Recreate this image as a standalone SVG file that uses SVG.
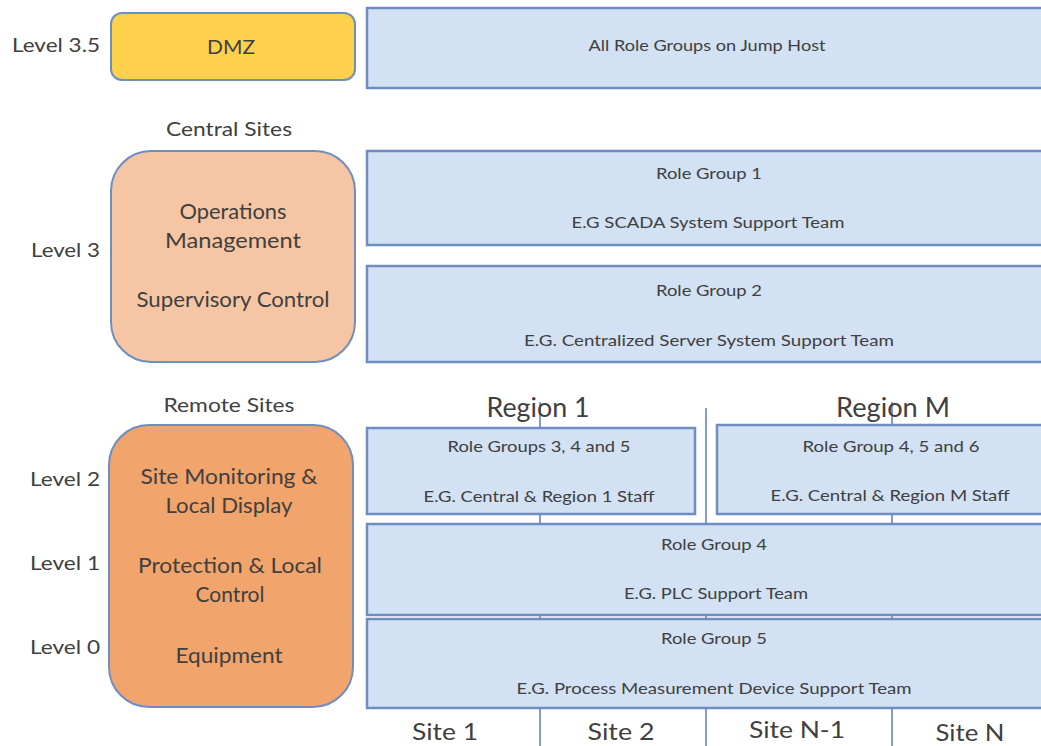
<svg xmlns="http://www.w3.org/2000/svg" width="1041" height="746" viewBox="0 0 1041 746">
<style>
text{font-family:Lato,"Open Sans","Liberation Sans",sans-serif;fill:#404040;text-anchor:middle}
.lvl{font-size:20px;text-anchor:end}
.hd{font-size:20px}
.big{font-size:21px}
.sm{font-size:16px}
.reg{font-size:26px}
.site{font-size:24px}
.box{fill:#D2E1F3;stroke:#6E8DC0;stroke-width:2.5}
.rnd{stroke:#6E8DC0;stroke-width:2}
.ln{stroke:#7F9DD2;stroke-width:2;fill:none}
</style>
<rect width="1041" height="746" fill="#ffffff"/>

<g id="connectors">
<line class="ln" x1="540" y1="402" x2="540" y2="746"/>
<line class="ln" x1="706" y1="408" x2="706" y2="746"/>
<line class="ln" x1="892" y1="402" x2="892" y2="746"/>
</g>

<g id="level-labels">
<text class="lvl" x="100" y="52" textLength="88" lengthAdjust="spacingAndGlyphs">Level 3.5</text>
<text class="lvl" x="100" y="257" textLength="69" lengthAdjust="spacingAndGlyphs">Level 3</text>
<text class="lvl" x="100" y="486" textLength="70" lengthAdjust="spacingAndGlyphs">Level 2</text>
<text class="lvl" x="100" y="570" textLength="70" lengthAdjust="spacingAndGlyphs">Level 1</text>
<text class="lvl" x="100" y="654" textLength="70" lengthAdjust="spacingAndGlyphs">Level 0</text>
<text class="hd" x="229" y="136" textLength="126" lengthAdjust="spacingAndGlyphs">Central Sites</text>
<text class="hd" x="229" y="412" textLength="131" lengthAdjust="spacingAndGlyphs">Remote Sites</text>
</g>

<g id="dmz">
<rect class="rnd" x="111" y="13" width="244" height="67" rx="11" fill="#FDD14C"/>
<text class="hd" x="231" y="54" textLength="48" lengthAdjust="spacingAndGlyphs">DMZ</text>
</g>

<g id="jump-host">
<rect class="box" x="367" y="8" width="690" height="80"/>
<text class="sm" x="707" y="51" textLength="237" lengthAdjust="spacingAndGlyphs">All Role Groups on Jump Host</text>
</g>

<g id="central-sites">
<rect class="rnd" x="111" y="151" width="244" height="211" rx="40" fill="#F6C6A4"/>
<text class="big" x="233" y="219" textLength="107" lengthAdjust="spacingAndGlyphs">Operations</text>
<text class="big" x="233" y="248" textLength="136" lengthAdjust="spacingAndGlyphs">Management</text>
<text class="big" x="233" y="307" textLength="193" lengthAdjust="spacingAndGlyphs">Supervisory Control</text>
</g>

<g id="role-group-1">
<rect class="box" x="367" y="151" width="690" height="94"/>
<text class="sm" x="709" y="179" textLength="106" lengthAdjust="spacingAndGlyphs">Role Group 1</text>
<text class="sm" x="708" y="228" textLength="273" lengthAdjust="spacingAndGlyphs">E.G SCADA System Support Team</text>
</g>

<g id="role-group-2">
<rect class="box" x="367" y="266" width="690" height="96"/>
<text class="sm" x="709" y="296" textLength="106" lengthAdjust="spacingAndGlyphs">Role Group 2</text>
<text class="sm" x="709" y="346" textLength="370" lengthAdjust="spacingAndGlyphs">E.G. Centralized Server System Support Team</text>
</g>

<g id="remote-sites">
<rect class="rnd" x="109" y="425" width="244" height="282" rx="40" fill="#F1A46C"/>
<text class="big" x="229" y="484" textLength="177" lengthAdjust="spacingAndGlyphs">Site Monitoring &amp;</text>
<text class="big" x="229" y="513" textLength="127" lengthAdjust="spacingAndGlyphs">Local Display</text>
<text class="big" x="230" y="573" textLength="184" lengthAdjust="spacingAndGlyphs">Protection  &amp; Local</text>
<text class="big" x="230" y="602" textLength="69" lengthAdjust="spacingAndGlyphs">Control</text>
<text class="big" x="229" y="663" textLength="107" lengthAdjust="spacingAndGlyphs">Equipment</text>
</g>

<g id="region-labels">
<text class="reg" x="538" y="417" textLength="103" lengthAdjust="spacingAndGlyphs">Region 1</text>
<text class="reg" x="893" y="417" textLength="114" lengthAdjust="spacingAndGlyphs">Region M</text>
</g>

<g id="region-1">
<rect class="box" x="367" y="428" width="328" height="86"/>
<text class="sm" x="539" y="452" textLength="183" lengthAdjust="spacingAndGlyphs">Role Groups 3, 4 and 5</text>
<text class="sm" x="539" y="502" textLength="231" lengthAdjust="spacingAndGlyphs">E.G. Central &amp; Region 1 Staff</text>
</g>

<g id="region-m">
<rect class="box" x="717" y="425" width="340" height="89"/>
<text class="sm" x="891" y="452" textLength="177" lengthAdjust="spacingAndGlyphs">Role Group 4, 5 and 6</text>
<text class="sm" x="890" y="501" textLength="239" lengthAdjust="spacingAndGlyphs">E.G. Central &amp; Region M Staff</text>
</g>

<g id="role-group-4">
<rect class="box" x="367" y="524" width="700" height="91"/>
<text class="sm" x="714" y="550" textLength="106" lengthAdjust="spacingAndGlyphs">Role Group 4</text>
<text class="sm" x="716" y="599" textLength="184" lengthAdjust="spacingAndGlyphs">E.G. PLC Support Team</text>
</g>

<g id="role-group-5">
<rect class="box" x="367" y="619" width="700" height="89"/>
<text class="sm" x="714" y="644" textLength="106" lengthAdjust="spacingAndGlyphs">Role Group 5</text>
<text class="sm" x="714" y="694" textLength="395" lengthAdjust="spacingAndGlyphs">E.G. Process Measurement Device Support Team</text>
</g>

<g id="site-labels">
<text class="site" x="445" y="740" textLength="66" lengthAdjust="spacingAndGlyphs">Site 1</text>
<text class="site" x="621" y="740" textLength="67" lengthAdjust="spacingAndGlyphs">Site 2</text>
<text class="site" x="797" y="738" textLength="96" lengthAdjust="spacingAndGlyphs">Site N-1</text>
<text class="site" x="970" y="741" textLength="69" lengthAdjust="spacingAndGlyphs">Site N</text>
</g>
</svg>
